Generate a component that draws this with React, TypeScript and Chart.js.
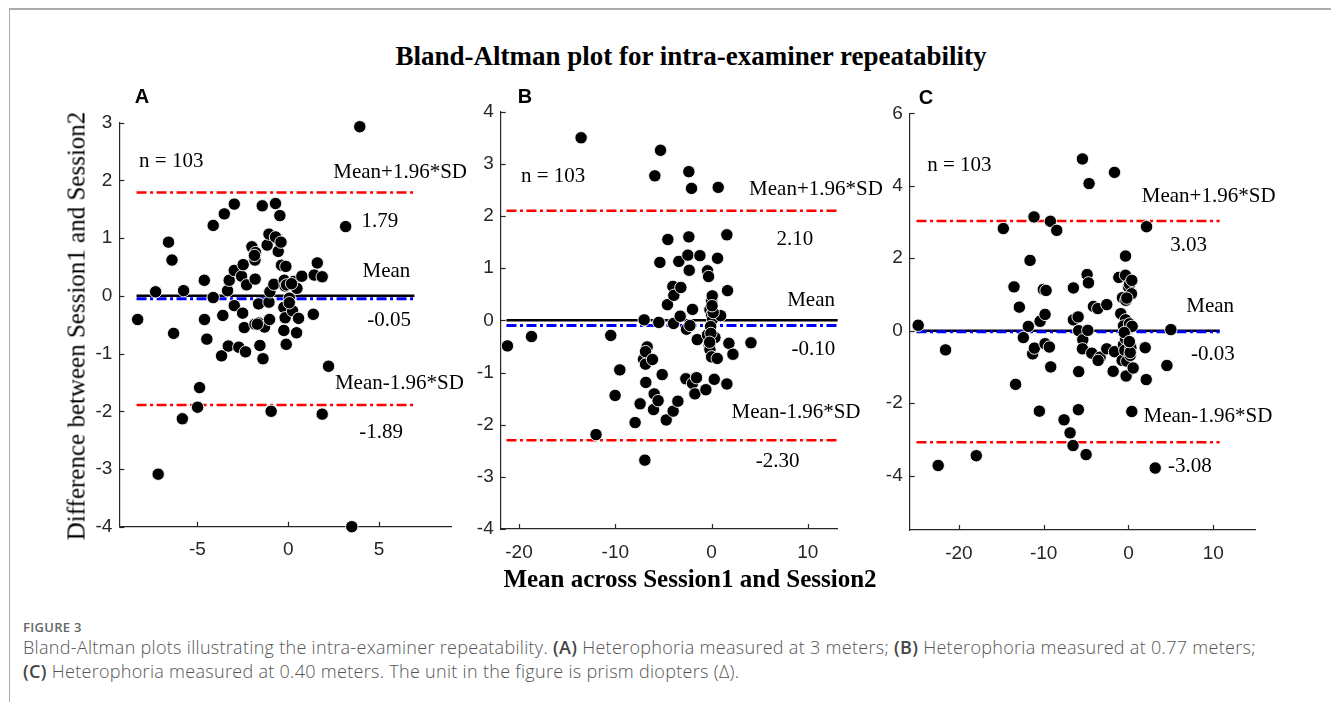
import React, { useEffect, useRef } from "react";
import { Chart, registerables } from "chart.js";
Chart.register(...registerables);

// ---------- DATA ----------
// Panel A: heterophoria at 3 m
const meanA = [3.94, -8.29, -7.30, -6.59, -6.40, -6.31, -5.76, -7.16, -5.83, -4.99, -4.88, -4.62, -4.61, -4.48, -4.13, -4.13, -3.52, -2.97, -3.67, -3.60, -3.34, -3.25, -2.97, -2.97, -3.30, -2.72, -2.57, -2.51, -2.48, -2.42, -2.35, -2.29, -2.00, -1.83, -1.80, -1.82, -1.83, -1.63, -1.63, -1.56, -1.43, -1.39, -1.30, -1.16, -1.06, -1.06, -1.01, -1.03, -0.94, -0.79, -0.70, -0.61, -0.55, -0.46, -0.37, -0.13, -0.22, -0.17, -0.24, -0.17, -0.24, -0.11, 0.06, 0.24, 0.31, 0.48, 0.57, 0.46, 0.75, 1.38, 1.43, 1.60, 1.87, 1.87, 2.22, 3.16, 3.50, -0.09, 0.18, -0.70, -1.86, -0.40, -1.70, 0.06];
const diffA = [2.93, -0.41, 0.07, 0.93, 0.62, -0.65, 0.09, -3.09, -2.13, -1.93, -1.59, 0.27, -0.41, -0.75, 1.22, -0.03, 1.42, 1.59, -1.04, -0.34, 0.09, 0.27, 0.44, -0.17, -0.87, -0.89, 0.34, -0.30, 0.54, -0.55, -0.97, 0.19, 0.85, 0.62, 0.75, 0.29, -0.49, -0.47, -0.14, -0.86, 1.56, -1.09, -0.54, 0.88, 1.07, -0.11, 0.07, -0.41, -2.00, 0.20, 1.60, 0.99, 0.77, 1.39, 0.53, 0.51, 0.27, 0.17, -0.20, -0.38, -0.60, -0.84, -0.04, -0.26, 0.25, 0.13, -0.39, -0.64, 0.34, -0.32, 0.36, 0.57, 0.33, -2.05, -1.22, 1.20, -4.00, 0.19, 0.21, 1.02, 0.70, 0.93, -0.49, -0.12];
const statsA = [1.79, -0.05, -1.89]; // upper LoA, mean, lower LoA
const spanA = [-8.35, 6.95];
const xTicksA = [-5, 0, 5];
const yTicksA = [3, 2, 1, 0, -1, -2, -3, -4];

// Panel B: heterophoria at 0.77 m
const meanB = [-21.2, -18.7, -13.55, -12.0, -10.47, -10.02, -9.53, -7.94, -7.42, -6.93, -7.0, -6.83, -7.07, -6.86, -6.69, -6.86, -6.14, -5.96, -5.89, -6.03, -5.55, -5.48, -5.37, -5.30, -5.13, -4.71, -4.58, -4.54, -4.02, -3.92, -3.99, -3.95, -3.50, -3.40, -3.19, -3.26, -2.67, -2.60, -2.46, -2.36, -2.36, -2.32, -2.25, -2.08, -1.98, -1.98, -1.73, -1.56, -1.49, -1.21, -0.59, -0.42, -0.31, -0.42, -0.24, -0.17, 0, 0.07, -0.17, 0, 0.10, -0.10, 0.35, 0, 0.59, 0.28, 0.62, 0.69, 0.94, 1.59, 1.66, 1.80, 1.59, 2.22, 4.09, -0.07, 0.17, -0.2, 0.05];
const diffB = [-0.49, -0.31, 3.50, -2.19, -0.29, -1.44, -0.95, -1.96, -1.60, -2.68, 0.01, -1.19, -0.75, -0.84, -0.51, -0.60, -0.75, -1.41, 2.77, -1.71, -1.54, -0.04, 1.11, 3.26, -1.04, -1.91, 0.30, 1.55, 0.65, 0.48, -1.74, -0.06, -1.55, 1.13, 0.63, 0.08, -1.12, -0.17, 1.25, 1.60, 2.85, 0.96, -0.10, 2.53, 0.21, -1.21, -1.41, -1.10, -0.37, 1.24, -1.33, 0.95, 0.84, -0.28, -0.49, -0.56, 0.37, 0.47, 0.20, 0.10, 0.02, -0.12, -0.33, -0.70, -0.73, -1.13, 1.19, 2.55, 0.09, 1.64, 0.57, -0.44, -1.22, -0.65, -0.43, -0.25, 0.15, -0.42, 0.28];
const statsB = [2.10, -0.10, -2.30];
const spanB = [-21.3, 13.1];
const xTicksB = [-20, -10, 0, 10];
const yTicksB = [4, 3, 2, 1, 0, -1, -2, -3, -4];

// Panel C: heterophoria at 0.40 m
const meanC = [-24.8, -22.44, -21.57, -17.95, -14.76, -13.50, -13.31, -12.87, -12.40, -11.81, -11.61, -11.30, -11.10, -11.14, -10.51, -10.43, -10.04, -9.72, -9.84, -9.84, -9.33, -9.21, -9.17, -8.46, -7.60, -6.89, -6.54, -6.50, -6.50, -5.94, -5.87, -5.91, -5.87, -5.43, -5.39, -5.43, -5.0, -4.88, -4.72, -4.80, -4.65, -4.33, -4.13, -3.62, -3.35, -3.58, -2.56, -2.56, -1.81, -1.65, -1.65, -1.14, -0.91, -0.71, -0.75, -0.59, -0.35, -0.35, -0.31, -0.35, -0.59, -0.35, -0.43, -0.20, -0.28, 0, 0.12, 0.39, 0.35, 0.12, 0.43, 0.28, 0.20, 0.55, 0.39, 1.97, 2.09, 2.13, 3.15, 4.53, 5.0, -0.2, 0.2, -0.5, 0.1];
const diffC = [0.15, -3.72, -0.53, -3.45, 2.82, 1.21, -1.48, 0.65, -0.19, 0.12, 1.94, -0.64, -0.48, 3.14, -2.22, 0.26, 1.14, 1.11, 0.45, -0.36, -0.45, 3.02, -1.0, 2.77, -2.46, -2.82, -3.17, 1.18, 0.30, 0.38, -1.13, -2.18, 0, 4.74, -0.25, -0.50, -3.42, 1.55, 1.32, 0.01, 4.06, -0.62, 0.67, 0.61, -0.73, -0.82, 0.72, -0.50, -1.12, 4.37, -0.58, 1.47, 0.47, 0.91, -0.82, -0.39, 2.06, 1.53, 0.84, 0.30, 0.13, -0.22, -0.54, -0.84, -1.25, 1.21, 1.28, 1.39, 1.02, 0.19, 0.12, -0.47, -0.68, -1.03, -2.23, -0.47, -1.35, 2.87, -3.79, -0.96, 0.03, 0.9, -0.6, -0.05, -0.3];
const statsC = [3.03, -0.03, -3.08];
const spanC = [-25.0, 10.75];
const xTicksC = [-20, -10, 0, 10];
const yTicksC = [6, 4, 2, 0, -2, -4];

const nLabel = "n = 103";
const upperLabel = "Mean+1.96*SD";
const meanLabel = "Mean";
const lowerLabel = "Mean-1.96*SD";

// ---------- LAYOUT / STYLE ----------
const AXIS = "#262626";
const SERIF = '"Liberation Serif", "Times New Roman", serif';
const SANS = '"Liberation Sans", Arial, sans-serif';

type Note = { text: string; x: number; y: number };
type PanelCfg = {
  letter: string;
  xs: number[]; ys: number[]; stats: number[]; span: number[];
  xTicks: number[]; yTicks: number[];
  xRange: number[]; yRange: number[];
  canvas: { left: number; top: number; width: number; height: number };
  plot: { left: number; top: number; right: number; bottom: number };
  notePos: number[][]; // positions in data units for the 7 annotations
};

const fmt = (v: number) => v.toFixed(2);

function notesFor(cfg: PanelCfg): Note[] {
  const texts = [nLabel, upperLabel, fmt(cfg.stats[0]), meanLabel, fmt(cfg.stats[1]), lowerLabel, fmt(cfg.stats[2])];
  return texts.map((t, i) => ({ text: t, x: cfg.notePos[i][0], y: cfg.notePos[i][1] }));
}

const panels: PanelCfg[] = [
  {
    letter: "A", xs: meanA, ys: diffA, stats: statsA, span: spanA, xTicks: xTicksA, yTicks: yTicksA,
    xRange: [-9.3, 9.0], yRange: [-4, 3],
    canvas: { left: 40, top: 80, width: 440, height: 500 },
    plot: { left: 119.3, top: 122.7, right: 451.7, bottom: 526.7 },
    notePos: [[-8.21, 2.33], [2.48, 2.14], [4.04, 1.28], [4.09, 0.42], [4.35, -0.42], [2.57, -1.52], [3.91, -2.37]],
  },
  {
    letter: "B", xs: meanB, ys: diffB, stats: statsB, span: spanB, xTicks: xTicksB, yTicks: yTicksB,
    xRange: [-21.9, 13.1], yRange: [-4, 4],
    canvas: { left: 470, top: 80, width: 420, height: 500 },
    plot: { left: 500.7, top: 111.7, right: 837.7, bottom: 529 },
    notePos: [[-19.8, 2.75], [3.9, 2.5], [6.75, 1.55], [7.85, 0.39], [8.31, -0.56], [2.08, -1.76], [4.6, -2.71]],
  },
  {
    letter: "C", xs: meanC, ys: diffC, stats: statsC, span: spanC, xTicks: xTicksC, yTicks: yTicksC,
    xRange: [-25.8, 15.0], yRange: [-5.5, 6],
    canvas: { left: 870, top: 80, width: 461, height: 500 },
    plot: { left: 909.7, top: 113.3, right: 1255.7, bottom: 530 },
    notePos: [[-23.74, 4.57], [1.57, 3.7], [4.92, 2.34], [6.81, 0.68], [7.36, -0.66], [1.77, -2.37], [4.65, -3.75]],
  },
];

const DASHDOT = [10, 3.5, 3, 3.5];

function Panel({ cfg }: { cfg: PanelCfg }) {
  const ref = useRef<HTMLCanvasElement | null>(null);
  useEffect(() => {
    if (!ref.current) return;
    const c = cfg.canvas, p = cfg.plot;
    const yAxisW = p.left - c.left;
    const xAxisH = c.top + c.height - p.bottom;
    const padTop = p.top - c.top;
    const padRight = c.left + c.width - p.right;
    const notes = notesFor(cfg);
    const pts = cfg.xs.map((x, i) => ({ x, y: cfg.ys[i] }));
    const hline = (v: number, x0: number, x1: number) => [{ x: x0, y: v }, { x: x1, y: v }];

    const overlay = {
      id: "overlay" + cfg.letter,
      afterDatasetsDraw(chart: any) {
        const { ctx, chartArea } = chart;
        const xs = chart.scales.x, ys = chart.scales.y;
        ctx.save();
        ctx.strokeStyle = AXIS;
        ctx.lineWidth = 1.2;
        xs.ticks.forEach((t: any) => {
          const px = Math.round(xs.getPixelForValue(t.value)) + 0.5;
          ctx.beginPath(); ctx.moveTo(px, chartArea.bottom); ctx.lineTo(px, chartArea.bottom - 5); ctx.stroke();
        });
        ys.ticks.forEach((t: any) => {
          const py = Math.round(ys.getPixelForValue(t.value)) + 0.5;
          ctx.beginPath(); ctx.moveTo(chartArea.left, py); ctx.lineTo(chartArea.left + 5, py); ctx.stroke();
        });
        ctx.fillStyle = "#000";
        ctx.font = `21px ${SERIF}`;
        ctx.textAlign = "left";
        ctx.textBaseline = "middle";
        notes.forEach((n) => ctx.fillText(n.text, xs.getPixelForValue(n.x), ys.getPixelForValue(n.y)));
        ctx.restore();
      },
    };

    const chart = new Chart(ref.current, {
      type: "scatter",
      data: {
        datasets: [
          {
            type: "scatter", data: pts, pointRadius: 6.2, pointHoverRadius: 6.2,
            backgroundColor: "#000", borderColor: "#fff", borderWidth: 0.9, clip: false,
          } as any,
          { type: "line", data: hline(cfg.stats[1], cfg.span[0], cfg.span[1]), borderColor: "#0000ff", borderWidth: 3, borderDash: DASHDOT, pointRadius: 0, clip: false } as any,
          { type: "line", data: hline(0, cfg.span[0], cfg.span[1]), borderColor: "#000", borderWidth: 2.5, pointRadius: 0, clip: false } as any,
          { type: "line", data: hline(cfg.stats[0], cfg.span[0], cfg.span[1]), borderColor: "#ff0000", borderWidth: 2.5, borderDash: DASHDOT, pointRadius: 0, clip: false } as any,
          { type: "line", data: hline(cfg.stats[2], cfg.span[0], cfg.span[1]), borderColor: "#ff0000", borderWidth: 2.5, borderDash: DASHDOT, pointRadius: 0, clip: false } as any,
        ],
      },
      options: {
        animation: false,
        responsive: false,
        devicePixelRatio: 1,
        events: [],
        layout: { padding: { top: padTop, right: padRight, left: 0, bottom: 0 } },
        plugins: { legend: { display: false }, tooltip: { enabled: false }, title: { display: false } },
        scales: {
          x: {
            type: "linear", min: cfg.xRange[0], max: cfg.xRange[1],
            afterBuildTicks: (s: any) => { s.ticks = cfg.xTicks.map((v) => ({ value: v })); },
            afterFit: (s: any) => { s.height = xAxisH; },
            grid: { display: true, drawOnChartArea: false, drawTicks: false },
            border: { display: true, color: AXIS, width: 1.2 },
            ticks: { font: { family: SANS, size: 19 }, color: AXIS, padding: 12, maxRotation: 0, autoSkip: false },
          },
          y: {
            type: "linear", min: cfg.yRange[0], max: cfg.yRange[1],
            afterBuildTicks: (s: any) => { s.ticks = cfg.yTicks.map((v) => ({ value: v })); },
            afterFit: (s: any) => { s.width = yAxisW; },
            grid: { display: true, drawOnChartArea: false, drawTicks: false },
            border: { display: true, color: AXIS, width: 1.2 },
            ticks: { font: { family: SANS, size: 19 }, color: AXIS, padding: 7, autoSkip: false },
          },
        },
      } as any,
      plugins: [overlay],
    });
    return () => chart.destroy();
  }, [cfg]);
  const c = cfg.canvas;
  return (
    <canvas ref={ref} width={c.width} height={c.height}
      style={{ position: "absolute", left: c.left, top: c.top, width: c.width, height: c.height }} />
  );
}

const letterPos = [[142, 96], [525, 96], [926, 96.5]];

export default function App() {
  const abs = (o: any): React.CSSProperties => ({ position: "absolute", whiteSpace: "nowrap", ...o });
  const bold: React.CSSProperties = { fontWeight: 600, color: "#444" };
  return (
    <div style={{ position: "fixed", left: 0, top: 0, width: 1331, height: 702, background: "#fff", overflow: "hidden" }}>
      <div style={abs({ left: 9, top: 8, width: 1322, height: 2, background: "#ababab" })} />
      <div style={abs({ left: 9, top: 9, width: 1, height: 693, background: "#ababab" })} />
      <div style={abs({ left: 691, top: 56, transform: "translate(-50%,-50%)", font: `bold 27px/27px ${SERIF}`, color: "#000" })}>
        Bland-Altman plot for intra-examiner repeatability
      </div>
      {panels.map((p) => <Panel key={p.letter} cfg={p} />)}
      {panels.map((p, i) => (
        <div key={"L" + p.letter} style={abs({ left: letterPos[i][0], top: letterPos[i][1], transform: "translate(-50%,-50%)", font: `bold 20px/20px ${SANS}`, color: "#000" })}>
          {p.letter}
        </div>
      ))}
      <div style={abs({ left: 75.5, top: 326, transform: "translate(-50%,-50%) rotate(-90deg)", font: `25px/25px ${SERIF}`, color: "#000" })}>
        Difference between Session1 and Session2
      </div>
      <div style={abs({ left: 690, top: 578, transform: "translate(-50%,-50%)", font: `bold 25px/25px ${SERIF}`, color: "#000" })}>
        Mean across Session1 and Session2
      </div>
      <div style={abs({ left: 23, top: 619, font: `600 13px/16px "Open Sans", sans-serif`, color: "#666", letterSpacing: "0.3px" })}>
        FIGURE 3
      </div>
      <div style={abs({ left: 23, top: 635, font: `300 18px/24px "Open Sans", sans-serif`, color: "#555", letterSpacing: "0.3px" })}>
        Bland-Altman plots illustrating the intra-examiner repeatability. <b style={bold}>(A)</b> Heterophoria measured at 3 meters; <b style={bold}>(B)</b> Heterophoria measured at 0.77 meters;
        <br />
        <b style={bold}>(C)</b> Heterophoria measured at 0.40 meters. The unit in the figure is prism diopters (Δ).
      </div>
    </div>
  );
}
